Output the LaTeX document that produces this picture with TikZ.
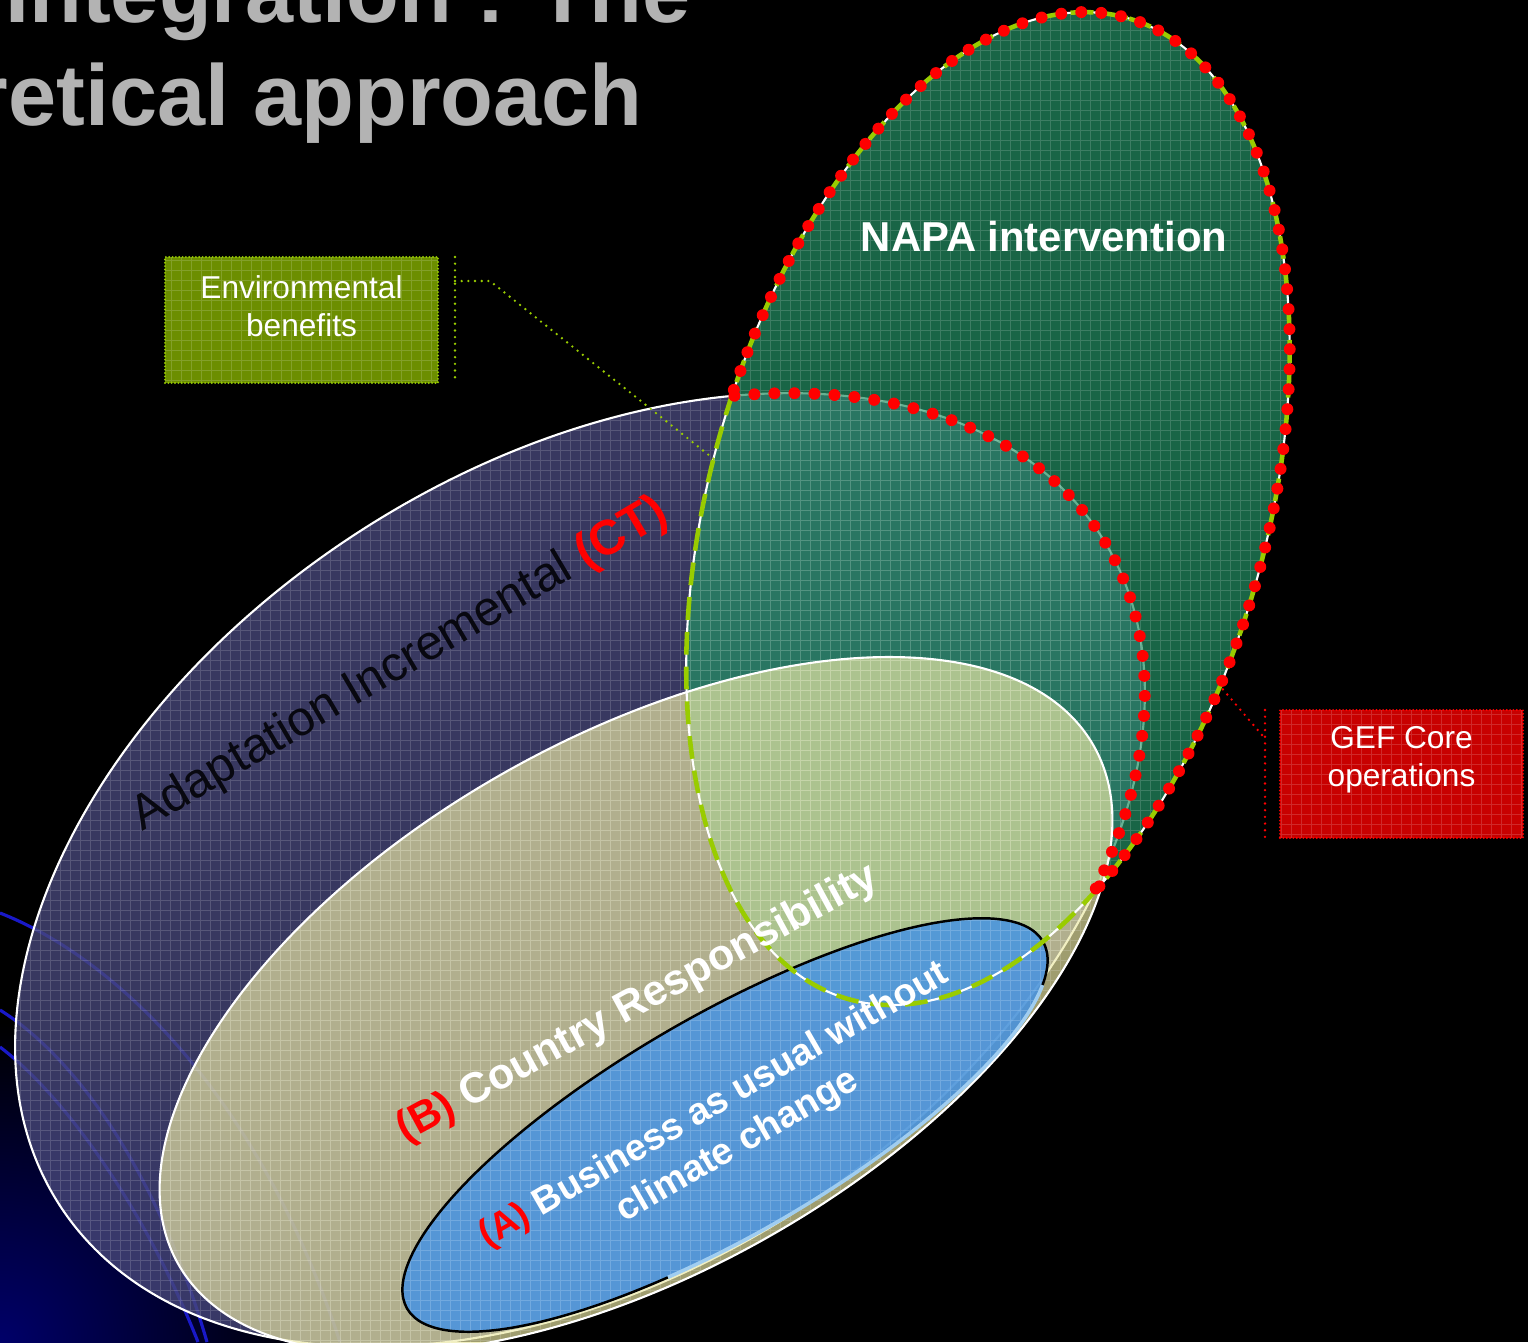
\documentclass[tikz,border=0pt]{standalone}
\usepackage{fontspec}
\setmainfont{Liberation Sans}
\usetikzlibrary{positioning}

\definecolor{titlegray}{RGB}{179,179,179}
\definecolor{navyglow}{RGB}{0,0,105}
\definecolor{tmplblue}{RGB}{25,25,200}
\definecolor{adaptfill}{RGB}{70,70,120}
\definecolor{adaptink}{RGB}{8,8,16}
\definecolor{napafill}{RGB}{36,145,100}
\definecolor{countryfill}{RGB}{235,232,165}
\definecolor{busfill}{RGB}{69,146,227}
\definecolor{busrim}{RGB}{160,205,240}
\definecolor{dashgreen}{RGB}{153,204,0}
\definecolor{envfill}{RGB}{108,142,0}
\definecolor{geffill}{RGB}{200,0,0}

\tikzset{
  ring/.style={draw=white, line width=0.6pt},
  gridtex/.style={draw=white, opacity=0.16, line width=0.25pt},
  tmplline/.style={draw=tmplblue, line width=0.9pt},
  greendash/.style={draw=dashgreen, line width=1.3pt, dash pattern=on 6.5pt off 3.4pt},
  reddots/.style={draw=red, line width=3.4pt, line cap=round, dash pattern=on 0pt off 5.7pt},
  leader/.style={line width=0.75pt, line cap=round, dash pattern=on 0pt off 1.9pt},
  calloutbox/.style={minimum width=2.73cm, minimum height=1.26cm, inner sep=0pt,
    line width=0.6pt, line cap=round, dash pattern=on 0pt off 0.95pt,
    path picture={\draw[gridtex, solid, step=0.1] (path picture bounding box.south west)
      grid (path picture bounding box.north east);}},
  boxtext/.style={font=\fontsize{9}{10.8}\selectfont, text=white, align=center},
  titletext/.style={font=\fontsize{24.6}{29}\selectfont\bfseries, text=titlegray},
}

% 塗りの上に細かい格子を重ねる
\newcommand{\texgrid}{\draw[gridtex, step=0.1] (0,0) grid (15.3,-13.5);}

\begin{document}
\begin{tikzpicture}

  \useasboundingbox (0,0) rectangle (15.28,-13.42);
  \clip (0,0) rectangle (15.28,-13.42);
  \fill[black] (0,0) rectangle (15.28,-13.42);

  % 左下の紺色のぼかしと曲線
  \shade[inner color=navyglow, outer color=black] (0,-13.42) circle (3.2);
  \draw[tmplline] (0,-9.13) .. controls (1.2,-9.6) and (2.6,-11.0) .. (3.4,-13.42);
  \draw[tmplline] (0,-10.10) .. controls (0.8,-10.6) and (1.6,-11.8) .. (2.07,-13.42);
  \draw[tmplline] (0,-10.47) .. controls (0.7,-11.0) and (1.5,-12.2) .. (1.98,-13.42);

  % タイトル (左端で切れている)
  \node[titletext, anchor=base east] (title1) at (7.03,-0.22) {Integration : The};
  \node[titletext, anchor=base east] (title2) at (6.55,-1.25) {retical approach};

  % 楕円の中心
  \coordinate (adaptC) at (5.80,-8.70);
  \coordinate (napaC) at (9.88,-5.085);
  \coordinate (countryC) at (6.36,-10.05);
  \coordinate (busC) at (7.25,-11.25);

  % 適応増分 (紫)
  \fill[adaptfill, opacity=0.8, rotate around={32.7:(adaptC)}]
    (adaptC) ellipse [x radius=6.19, y radius=4.04];
  \begin{scope}
    \clip[rotate around={32.7:(adaptC)}] (adaptC) ellipse [x radius=6.19, y radius=4.04];
    \texgrid
  \end{scope}
  \draw[ring, rotate around={32.7:(adaptC)}] (adaptC) ellipse [x radius=6.19, y radius=4.04];

  % NAPA (緑, 半透明)
  \fill[napafill, opacity=0.7, rotate around={74.1:(napaC)}]
    (napaC) ellipse [x radius=5.10, y radius=2.78];
  \begin{scope}
    \clip[rotate around={74.1:(napaC)}] (napaC) ellipse [x radius=5.10, y radius=2.78];
    \texgrid
  \end{scope}

  % 国の責任 (黄)
  \fill[countryfill, opacity=0.68, rotate around={29.5:(countryC)}]
    (countryC) ellipse [x radius=5.26, y radius=2.67];
  \begin{scope}
    \clip[rotate around={29.5:(countryC)}] (countryC) ellipse [x radius=5.26, y radius=2.67];
    \texgrid
  \end{scope}
  \draw[ring, rotate around={29.5:(countryC)}] (countryC) ellipse [x radius=5.26, y radius=2.67];

  % 通常業務 (青)
  \fill[busfill, opacity=0.85, rotate around={30:(busC)}]
    (busC) ellipse [x radius=3.67, y radius=1.10];
  \begin{scope}
    \clip[rotate around={30:(busC)}] (busC) ellipse [x radius=3.67, y radius=1.10];
    \texgrid
  \end{scope}
  \begin{scope}[shift={(busC)}, rotate=30]
    \draw[black, line width=0.7pt] (-20:3.67 and 1.10) arc[start angle=-20, end angle=250, x radius=3.67, y radius=1.10];
    \draw[busrim, line width=1pt] (250:3.67 and 1.10) arc[start angle=250, end angle=340, x radius=3.67, y radius=1.10];
  \end{scope}

  % NAPA の枠 (白線＋黄緑の破線)
  \draw[ring, rotate around={74.1:(napaC)}] (napaC) ellipse [x radius=5.10, y radius=2.78];
  \draw[greendash, rotate around={74.1:(napaC)}] (napaC) ellipse [x radius=5.10, y radius=2.78];

  % GEF の範囲 (赤い点線)
  \begin{scope}[shift={(napaC)}, rotate=74.1]
    \draw[reddots] (85:5.10 and 2.78) arc[start angle=85, end angle=-132.4, x radius=5.10, y radius=2.78];
  \end{scope}
  \begin{scope}[shift={(adaptC)}, rotate=32.7]
    \draw[reddots] (51.4:6.19 and 4.04) arc[start angle=51.4, end angle=-46.9, x radius=6.19, y radius=4.04];
  \end{scope}

  % 吹き出し: Environmental benefits
  \node[calloutbox, fill=envfill, draw=dashgreen] (envbox) at (3.015,-3.20) {};
  \node[boxtext] (envtext) at (3.015,-3.06) {Environmental\\benefits};
  \coordinate (envbarT) at (4.55,-2.57);
  \coordinate (envbarB) at (4.55,-3.83);
  \coordinate (envknee) at (4.90,-2.81);
  \coordinate (envtip) at (7.15,-4.60);
  \draw[leader, dashgreen] (envbarT) -- (envbarB);
  \draw[leader, dashgreen] (envbarT |- envknee) -- (envknee) -- (envtip);

  % 吹き出し: GEF Core operations
  \node[calloutbox, fill=geffill, draw=red, minimum width=2.43cm, minimum height=1.28cm] (gefbox) at (14.015,-7.74) {};
  \node[boxtext] (geftext) at (14.015,-7.60) {GEF Core\\operations};
  \coordinate (gefbarT) at (12.65,-7.10);
  \coordinate (gefbarB) at (12.65,-8.38);
  \coordinate (gefjoin) at (12.62,-7.35);
  \coordinate (geftip) at (12.20,-6.86);
  \draw[leader, red] (gefbarT) -- (gefbarB);
  \draw[leader, red] (gefjoin) -- (geftip);

  % 楕円のラベル
  \node[font=\fontsize{11.9}{14}\selectfont\bfseries, text=white] (napa) at (10.44,-2.37) {NAPA intervention};
  \node[font=\fontsize{13.9}{16}\selectfont, text=adaptink, rotate=30.5] (adapt) at (4.00,-6.65)
    {Adaptation Incremental \textcolor{red}{\bfseries(CT)}};
  \node[font=\fontsize{12.2}{14}\selectfont\bfseries, text=white, rotate=28.5] (country) at (6.38,-10.04)
    {\textcolor{red}{(B)} Country Responsibility};
  \node[font=\fontsize{10.7}{13.3}\selectfont\bfseries, text=white, rotate=30, align=center] (bus) at (7.26,-11.26)
    {\textcolor{red}{(A)} Business as usual without\\climate change};

\end{tikzpicture}
\end{document}
